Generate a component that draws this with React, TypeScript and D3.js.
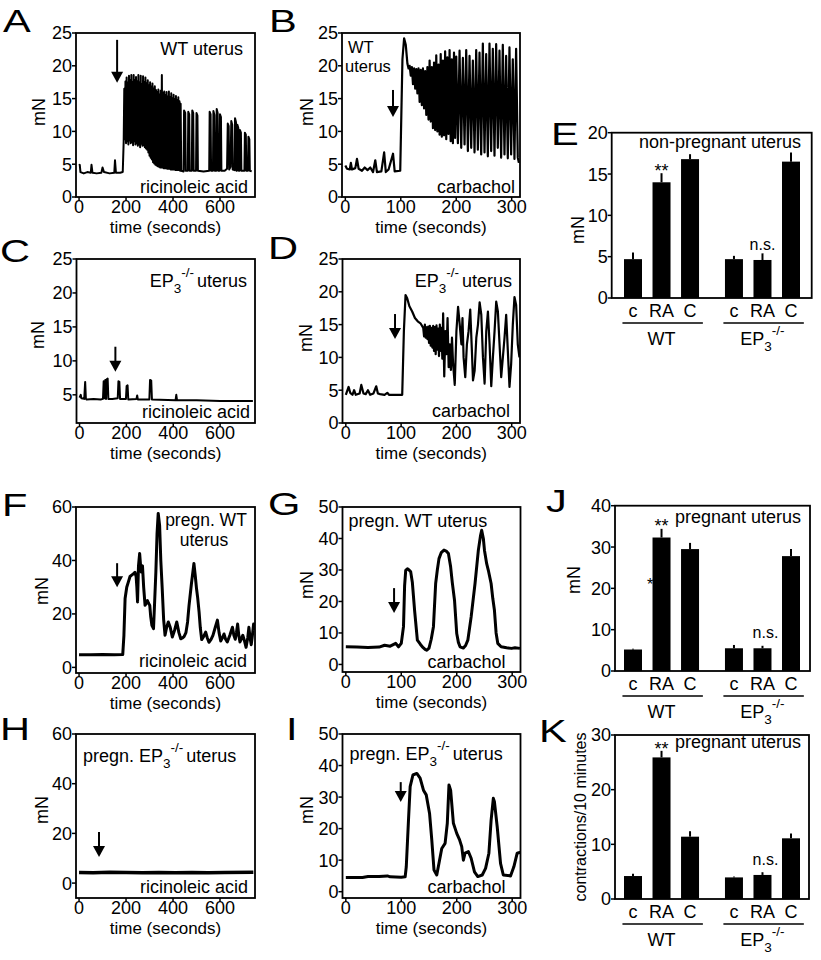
import React, { useEffect } from "react";
import * as d3 from "d3";

type Pt = [number, number];

const FONT = '"Liberation Sans", Arial, Helvetica, sans-serif';

// ---------- tick labels ----------
const ticksLong = [0, 200, 400, 600];
const ticksShort = [0, 100, 200, 300];
const ticks25 = [0, 5, 10, 15, 20, 25];
const ticksC = [5, 10, 15, 20, 25];
const ticks60 = [0, 20, 40, 60];
const ticks50 = [0, 10, 20, 30, 40, 50];
const ticksE = [0, 5, 10, 15, 20];
const ticksJ = [0, 10, 20, 30, 40];
const ticksK = [0, 10, 20, 30];

// ---------- traces [time s, force mN] ----------
const traceA: Pt[] = [
  [0, 4.8], [3, 4.9], [6, 3.8], [20, 3.6], [35, 3.8], [50, 3.7], [53, 4.9], [57, 3.7], [75, 3.6], [95, 3.7], [100, 4.5], [106, 3.8],
  [130, 3.6], [150, 3.7], [153, 5.6], [157, 3.7], [175, 3.7], [186, 3.8],
  [190, 8.5], [192.5, 16.5], [195, 8.8], [197.5, 17.6], [200, 8.2], [202.5, 18.2], [205, 8.5], [207.5, 17.4], [210, 8.0],
  [212.5, 18.5], [215, 8.6], [217.5, 17.8], [220, 8.2], [222.5, 18.6], [225, 8.4], [227.5, 17.5], [230, 7.9], [232.5, 18.6],
  [235, 8.5], [237.5, 17.8], [240, 8.0], [242.5, 18.3], [245, 8.2], [247.5, 17.6], [250, 7.8], [252.5, 18.6], [255, 8.0],
  [257.5, 17.4], [260, 7.6], [262.5, 18.5], [265, 8.1], [267.5, 17.2], [270, 7.8], [272.5, 18.4], [275, 7.9], [277.5, 17.5],
  [280, 7.6], [282.5, 18.2], [285, 7.4], [287.5, 17.3], [290, 7.2], [292.5, 17.8], [295, 6.8], [297.5, 17.0], [300, 6.3],
  [302.5, 17.5], [305, 6.0], [307.5, 16.8], [310, 5.7], [312.5, 17.3], [315, 5.3], [317.5, 16.5], [320, 5.1], [322.5, 16.9],
  [325, 4.9], [327.5, 16.3], [330, 4.8], [332.5, 16.0], [335, 4.7], [337.5, 16.4], [340, 4.6], [342.5, 15.6], [345, 4.5],
  [347.5, 16.2], [350, 4.5], [352.5, 18.6], [355, 4.5], [357.5, 15.8], [360, 4.4], [362.5, 16.1], [365, 4.4], [367.5, 15.5],
  [370, 4.4], [372.5, 16.0], [375, 4.3], [377.5, 15.3], [380, 4.3], [382.5, 16.1], [385, 4.3], [387.5, 15.2], [390, 4.2],
  [392.5, 15.8], [395, 4.2], [397.5, 15.0], [400, 4.2], [402.5, 15.6], [405, 4.2], [407.5, 14.9], [410, 4.1], [412.5, 15.4],
  [415, 4.1], [417.5, 14.8], [420, 4.1], [422.5, 15.2], [425, 4.1], [427.5, 14.6], [430, 4.0], [432.5, 14.2], [435, 4.0],
  [445, 3.9], [447, 13.2], [452, 12.8], [454, 4], [463, 4], [465, 13], [469, 12.6], [471, 4], [480, 4], [482, 13.2], [486, 12.8],
  [488, 4], [498, 4], [500, 12.8], [504, 12.4], [506, 4], [530, 3.9], [554, 4], [556, 13], [560, 12.6], [562, 4], [570, 4],
  [572, 13.1], [576, 12.5], [578, 4], [584, 4], [586, 13.4], [590, 12.8], [592, 4], [598, 4], [600, 12.6], [604, 12.2], [606, 4],
  [620, 4], [630, 4.3], [633, 11.2], [637, 10.8], [639, 4.2], [645, 4.6], [648, 11.6], [652, 11], [654, 4.2], [662, 4.1],
  [664, 12], [668, 11.4], [670, 4], [672, 4], [674, 11], [678, 10.5], [680, 4], [683, 4], [685, 10.2], [689, 9.8], [691, 4],
  [704, 4], [706, 9.8], [710, 9.5], [712, 4], [719, 4], [721, 9.2], [725, 8.8], [727, 4], [735, 3.9],
];

const traceB: Pt[] = [
  [0, 4.8], [3, 4.3], [8, 4.2], [10, 5.2], [12, 4.2], [18, 4.4], [21, 5.8], [24, 4.3], [30, 4.0], [35, 4.5], [40, 4.1], [45, 4.5],
  [50, 3.8], [54, 5.6], [57, 3.8], [65, 3.9], [70, 6.8], [73, 3.8], [78, 4.2], [86, 6.6], [89, 3.9], [99, 4.0],
  [103, 21], [106, 24.2], [109, 23.2], [112, 20.3], [114, 19.6], [116, 20], [118, 18.5], [120, 19.8], [122, 17.2], [124, 19.6],
  [126, 16.5], [128, 19.5], [130, 15.8], [132, 19.6], [134, 14.5], [136, 19.4], [138, 14], [140, 19.6], [142, 13.5], [144, 19.2],
  [146, 12.5], [148, 19.8], [150, 11.8], [152, 20.8], [154, 11.5], [156, 19.8], [158, 10.5], [160, 20.5], [162, 10.2], [164, 21.6],
  [166, 10], [168, 20.2], [170, 9.5], [172, 21.8], [174, 9.2], [176, 20.8], [178, 9.4], [180, 22.2], [182, 8.8], [184, 21.3],
  [186, 9.6], [188, 22.4], [190, 8.5], [192, 21], [194, 8.2], [196, 22], [198, 9], [200, 21.4], [203, 8.2], [206, 22.3],
  [209, 7.5], [212, 21.2], [215, 8], [218, 22.4], [221, 7], [224, 21.5], [227, 7.5], [230, 20.8], [233, 6.8], [236, 22.4],
  [239, 7.2], [242, 22], [245, 6.5], [248, 23.4], [251, 6.8], [254, 21.8], [257, 6.2], [260, 23.4], [263, 7], [266, 22.6],
  [269, 6.3], [272, 23.3], [275, 7.5], [278, 22.3], [281, 6], [284, 23.2], [287, 6.5], [290, 21.5], [293, 5.9], [296, 22.8],
  [299, 6.5], [302, 21], [305, 5.8], [308, 22.6], [311, 6], [313, 5.2],
];

const traceC: Pt[] = [
  [0, 4.6], [5, 5.0], [8, 4.5], [20, 4.4], [24, 6.9], [27, 4.4], [30, 4.3], [60, 4.4], [90, 4.3], [100, 4.4], [103, 7.0],
  [106, 4.5], [110, 7.2], [113, 4.4], [116, 7.3], [120, 7.4], [123, 4.4], [140, 4.4], [163, 4.5], [166, 7.0], [170, 6.9],
  [173, 4.4], [198, 4.4], [201, 6.3], [205, 6.4], [208, 4.3], [243, 4.4], [246, 4.9], [249, 4.3], [298, 4.3], [301, 7.2],
  [306, 7.1], [309, 4.3], [410, 4.2], [413, 5.0], [416, 4.2], [500, 4.2], [600, 4.1], [740, 4.1],
];

const traceD: Pt[] = [
  [0, 4.3], [5, 5.5], [8, 4.6], [12, 4.3], [15, 5], [18, 4.3], [25, 4.5], [28, 5.8], [32, 4.5], [36, 4.4], [40, 5], [44, 4.3],
  [50, 4.5], [55, 5.6], [58, 4.5], [62, 4.4], [70, 4.3], [75, 4.6], [78, 4.3], [85, 4.3], [95, 4.3], [102, 4.3],
  [105, 14], [108, 19.5], [111, 19], [115, 17.8], [120, 17], [125, 16], [130, 15.5], [135, 15.2], [140, 14.5], [141.5, 13.2],
  [143, 15], [144.5, 13], [146, 14.6], [147.5, 12.8], [149, 14.7], [150.5, 12.2], [152, 14.8], [153.5, 11.8], [155, 14.5],
  [156.5, 11.5], [158, 14.8], [159.5, 11], [161, 14.6], [162.5, 10.5], [164, 14.9], [165.5, 11.2], [167, 14.4], [168.5, 10.2],
  [170, 15], [171.5, 11], [173, 14.5], [174.5, 9.8], [176, 16.7], [178, 7.1], [180, 14], [182, 10.5], [184, 16], [186, 8.5],
  [188, 12], [190, 8.1], [192, 13], [194, 9], [197, 5.8], [200, 14], [203, 17.7], [206, 15], [209, 12], [211, 16], [213, 10],
  [216, 7], [219, 12], [222, 14], [225, 17.3], [228, 11], [230, 6.5], [233, 8], [236, 13], [239, 15], [242, 18.4], [245, 16.5],
  [248, 10], [251, 6], [254, 14], [257, 17], [260, 12], [263, 5.6], [266, 10], [269, 14], [272, 18.5], [275, 17], [278, 12],
  [281, 7], [284, 10], [287, 13], [290, 16.5], [293, 11], [296, 5.5], [299, 9], [302, 15], [305, 19.2], [308, 18], [311, 12],
  [314, 10],
];

const traceF: Pt[] = [
  [0, 4.75], [50, 4.7], [100, 4.8], [150, 4.75], [186, 4.8], [191, 12], [196, 25.8], [203, 30], [210, 32], [217, 34], [224, 34.5],
  [231, 35], [238, 35.6], [243, 34], [246, 30], [249, 24.5], [253, 38], [258, 42.6], [262, 38], [265, 35.7], [268, 37.5],
  [270, 38], [275, 30], [281, 23.2], [286, 24], [291, 25], [296, 24], [301, 23.2], [305, 19], [310, 15.75], [317, 14.5],
  [322, 25], [327, 35.7], [332, 50], [337, 57.6], [343, 53], [348, 40], [354, 29.5], [360, 18], [366, 12], [373, 15], [380, 17],
  [388, 15], [397, 11.4], [407, 14], [416, 17], [425, 13], [433, 10.7], [440, 11], [447, 11.5], [455, 13], [462, 17], [468, 23],
  [478, 31], [489, 38.9], [495, 34], [500, 29.5], [505, 26], [511, 20.7], [516, 15], [522, 10.4], [530, 11.5], [539, 13.2],
  [546, 11], [553, 9.4], [562, 10.5], [570, 12], [580, 15], [589, 17.7], [596, 13], [603, 9.9], [610, 11], [617, 12.5],
  [624, 10.5], [631, 9.5], [642, 12], [653, 15], [659, 12], [665, 10.5], [670, 13], [675, 16.2], [680, 12], [685, 9.5],
  [690, 10.5], [697, 12], [704, 10], [711, 7.5], [718, 11], [723, 15], [728, 11], [733, 8.5], [738, 12], [743, 16.2], [746, 14],
];

const traceG: Pt[] = [
  [0, 5.6], [20, 5.5], [40, 5.4], [60, 5.5], [70, 6.1], [80, 5.8], [90, 6.7], [95, 5.6], [100, 6.7], [104, 12], [106, 25],
  [108, 29.9], [111, 30.4], [114, 30], [117, 29.4], [120, 26], [124, 17.2], [129, 7.7], [134, 6.5], [138, 5.6], [143, 4.8],
  [146, 4.5], [150, 5.2], [154, 8], [158, 12], [162, 25.7], [165, 30], [168, 33.6], [172, 35.5], [177, 36.3], [181, 36],
  [185, 35.2], [189, 31], [192, 26], [196, 20.4], [200, 9.8], [203, 7], [206, 5.6], [212, 5.2], [216, 6], [220, 7.7],
  [226, 15.1], [233, 25.7], [239, 36.3], [243, 41], [245, 42.6], [248, 40], [250, 36.3], [254, 32], [257, 29.9], [262, 25.7],
  [265, 21], [268, 17.2], [271, 10], [274, 6.7], [280, 5.6], [290, 5.3], [299, 5.1], [305, 5.3], [314, 5.1],
];

const traceH: Pt[] = [
  [0, 4.3], [60, 4.2], [130, 4.4], [200, 4.3], [270, 4.2], [340, 4.3], [410, 4.2], [480, 4.3], [550, 4.2], [620, 4.3], [742, 4.4],
];

const traceI: Pt[] = [
  [0, 4.5], [30, 4.5], [40, 4.8], [60, 4.8], [75, 5.0], [80, 4.7], [100, 4.6], [107, 4.7], [109, 7.9], [113, 22.7], [116, 33.3],
  [121, 37], [128, 37.5], [134, 36], [140, 32.2], [145, 30.7], [151, 24.8], [155, 16.4], [159, 6.9], [164, 5.3], [169, 10],
  [173, 13.7], [179, 15.3], [183, 21.7], [186, 33.8], [189, 32.2], [194, 21.7], [200, 18.5], [205, 16.5], [209, 14.3],
  [212, 10], [215, 12.2], [221, 12.7], [226, 10.6], [232, 6.3], [238, 4.8], [246, 5.3], [252, 7.4], [258, 12.2], [262, 22.7],
  [266, 29.6], [268, 28.5], [273, 20.6], [279, 9], [284, 5.3], [297, 5], [303, 7.9], [309, 12.2], [315, 12.5],
];

// arrows: [time of addition, force at arrow tip]
const arrowA: Pt = [162, 17.4];
const arrowB: Pt = [86, 12.2];
const arrowC: Pt = [153, 8.4];
const arrowD: Pt = [89, 12.8];
const arrowF: Pt = [162, 30];
const arrowG: Pt = [87, 16.3];
const arrowH: Pt = [85, 10.5];
const arrowI: Pt = [99, 28.4];

// ---------- bar charts ----------
const categories = ["c", "RA", "C", "c", "RA", "C"];
const barGroups = ["WT", "EP3"];
const barsE = [4.7, 14.0, 16.8, 4.7, 4.6, 16.5];
const errE = [5.5, 15.1, 17.4, 5.1, 5.4, 17.6];
const barsJ = [5.2, 32.3, 29.5, 5.5, 5.5, 27.8];
const errJ = [5.4, 34.4, 31.0, 6.3, 6.1, 29.5];
const barsK = [4.2, 25.9, 11.4, 3.95, 4.4, 11.1];
const errK = [4.6, 27.1, 12.4, 4.1, 4.9, 12.0];

// ---------- components ----------
function PanelLetter({ x, y, ch }: { x: number; y: number; ch: string }) {
  return (
    <text transform={`translate(${x},${y}) scale(1.3,1)`} fontSize={32} fill="#000">
      {ch}
    </text>
  );
}

function EP3Text({ x, y, anchor, pre = "", post = "", size = 18 }: any) {
  const s = size * 0.75;
  return (
    <text x={x} y={y} textAnchor={anchor} fontSize={size} fill="#000">
      {pre}EP
      <tspan dy={6} fontSize={s}>3</tspan>
      <tspan dy={-16} fontSize={s}>-/-</tspan>
      {post ? <tspan dy={10} dx={3}>{post}</tspan> : null}
    </text>
  );
}

interface TraceCfg {
  letter: string;
  lx: number;
  ly: number;
  x0: number;
  x1: number;
  y0: number;
  y1: number;
  xDomain: [number, number];
  yDomain: [number, number];
  xTicks: number[];
  yTicks: number[];
  data: Pt[];
  width: number;
  arrow: Pt;
  arrowLen: number;
  mn: [number, number];
  notes: (c: TraceCfg) => React.ReactNode;
}

function TracePanel({ c }: { c: TraceCfg }) {
  const x = d3.scaleLinear().domain(c.xDomain).range([c.x0, c.x1]);
  const y = d3.scaleLinear().domain(c.yDomain).range([c.y1, c.y0]);
  const line = d3
    .line<Pt>()
    .x((d) => x(d[0]))
    .y((d) => y(d[1]));
  const id = "clip" + c.letter;
  const ax = x(c.arrow[0]);
  const ay = y(c.arrow[1]);
  return (
    <g>
      <clipPath id={id}>
        <rect x={c.x0} y={c.y0} width={c.x1 - c.x0} height={c.y1 - c.y0} />
      </clipPath>
      <path
        d={line(c.data) || ""}
        fill="none"
        stroke="#000"
        strokeWidth={c.width}
        strokeLinejoin="round"
        clipPath={`url(#${id})`}
      />
      <rect x={c.x0} y={c.y0} width={c.x1 - c.x0} height={c.y1 - c.y0} fill="none" stroke="#000" strokeWidth={1.8} />
      {c.yTicks.map((t) => (
        <g key={"y" + t}>
          <line x1={c.x0 - 4} x2={c.x0} y1={y(t)} y2={y(t)} stroke="#000" strokeWidth={1.5} />
          <text x={c.x0 - 4} y={y(t)} dy="0.36em" textAnchor="end" fontSize={18} fill="#000">
            {t}
          </text>
        </g>
      ))}
      {c.xTicks.map((t) => (
        <g key={"x" + t}>
          <line x1={x(t)} x2={x(t)} y1={c.y1} y2={c.y1 + 4} stroke="#000" strokeWidth={1.5} />
          <text x={x(t)} y={c.y1 + 16} textAnchor="middle" fontSize={18} fill="#000">
            {t}
          </text>
        </g>
      ))}
      <text x={(c.x0 + c.x1) / 2} y={c.y1 + 35.5} textAnchor="middle" fontSize={17} fill="#000">
        time (seconds)
      </text>
      <text
        transform={`translate(${c.mn[0]},${c.mn[1]}) rotate(-90)`}
        dy="0.35em"
        textAnchor="middle"
        fontSize={18}
        fill="#000"
      >
        mN
      </text>
      <line x1={ax} x2={ax} y1={ay - c.arrowLen} y2={ay - 9} stroke="#000" strokeWidth={2} />
      <path d={`M${ax - 6},${ay - 11}L${ax + 6},${ay - 11}L${ax},${ay}Z`} fill="#000" />
      {c.notes(c)}
      <PanelLetter x={c.lx} y={c.ly} ch={c.letter} />
    </g>
  );
}

const longX: [number, number] = [-13, 749];
const shortX: [number, number] = [-6, 315];

const tracePanels: TraceCfg[] = [
  {
    letter: "A", lx: 3, ly: 32, x0: 76, x1: 255, y0: 33, y1: 197, xDomain: longX, yDomain: [0, 25],
    xTicks: ticksLong, yTicks: ticks25, data: traceA, width: 2, arrow: arrowA, arrowLen: 43, mn: [39, 112],
    notes: (c) => (
      <g fontSize={18} fill="#000">
        <text x={c.x1 - 12} y={c.y0 + 22} textAnchor="end">WT uterus</text>
        <text x={c.x1 - 7} y={c.y1 - 4} textAnchor="end">ricinoleic acid</text>
      </g>
    ),
  },
  {
    letter: "B", lx: 269, ly: 32, x0: 342, x1: 520, y0: 33, y1: 197, xDomain: shortX, yDomain: [0, 25],
    xTicks: ticksShort, yTicks: ticks25, data: traceB, width: 2.2, arrow: arrowB, arrowLen: 27, mn: [307, 112],
    notes: (c) => (
      <g fontSize={16.5} fill="#000">
        <text x={c.x0 + 6} y={c.y0 + 20}>WT</text>
        <text x={c.x0 + 3} y={c.y0 + 38.5}>uterus</text>
        <text x={c.x1 - 5} y={c.y1 - 4} textAnchor="end" fontSize={18}>carbachol</text>
      </g>
    ),
  },
  {
    letter: "C", lx: 0, ly: 262, x0: 76.5, x1: 255, y0: 259, y1: 423, xDomain: longX, yDomain: [0.85, 25],
    xTicks: ticksLong, yTicks: ticksC, data: traceC, width: 2, arrow: arrowC, arrowLen: 25, mn: [38, 335],
    notes: (c) => (
      <g>
        <EP3Text x={c.x1 - 8} y={c.y0 + 28} anchor="end" post="uterus" />
        <text x={c.x1 - 5} y={c.y1 - 5} textAnchor="end" fontSize={18} fill="#000">ricinoleic acid</text>
      </g>
    ),
  },
  {
    letter: "D", lx: 268, ly: 259, x0: 342.5, x1: 520, y0: 259, y1: 423, xDomain: shortX, yDomain: [0, 25],
    xTicks: ticksShort, yTicks: ticks25, data: traceD, width: 2.2, arrow: arrowD, arrowLen: 25, mn: [306, 338],
    notes: (c) => (
      <g>
        <EP3Text x={c.x1 - 8} y={c.y0 + 28} anchor="end" post="uterus" />
        <text x={c.x1 - 10} y={c.y1 - 6} textAnchor="end" fontSize={18} fill="#000">carbachol</text>
      </g>
    ),
  },
  {
    letter: "F", lx: 2, ly: 516, x0: 76, x1: 255, y0: 507, y1: 673, xDomain: longX, yDomain: [-2.1, 60],
    xTicks: ticksLong, yTicks: ticks60, data: traceF, width: 3, arrow: arrowF, arrowLen: 24, mn: [42, 591],
    notes: (c) => (
      <g fontSize={17.5} fill="#000">
        <text x={206} y={c.y0 + 19} textAnchor="middle">pregn. WT</text>
        <text x={204} y={c.y0 + 39} textAnchor="middle">uterus</text>
        <text x={c.x1 - 8} y={c.y1 - 6} textAnchor="end" fontSize={18}>ricinoleic acid</text>
      </g>
    ),
  },
  {
    letter: "G", lx: 268, ly: 515, x0: 342.5, x1: 520.5, y0: 507, y1: 672, xDomain: shortX, yDomain: [-2.4, 50],
    xTicks: ticksShort, yTicks: ticks50, data: traceG, width: 3, arrow: arrowG, arrowLen: 25, mn: [307, 585],
    notes: (c) => (
      <g fontSize={18} fill="#000">
        <text x={c.x0 + 6} y={c.y0 + 20}>pregn. WT uterus</text>
        <text x={c.x1 - 15} y={c.y1 - 4} textAnchor="end">carbachol</text>
      </g>
    ),
  },
  {
    letter: "H", lx: 0, ly: 740, x0: 76, x1: 255, y0: 734, y1: 898, xDomain: longX, yDomain: [-6, 60],
    xTicks: ticksLong, yTicks: ticks60, data: traceH, width: 3.5, arrow: arrowH, arrowLen: 25, mn: [42, 810],
    notes: (c) => (
      <g>
        <EP3Text x={c.x0 + 7} y={c.y0 + 28} anchor="start" pre="pregn. " post="uterus" />
        <text x={c.x1 - 7} y={c.y1 - 5} textAnchor="end" fontSize={18} fill="#000">ricinoleic acid</text>
      </g>
    ),
  },
  {
    letter: "I", lx: 286, ly: 740, x0: 342.5, x1: 520.5, y0: 734, y1: 898, xDomain: shortX, yDomain: [-2, 50],
    xTicks: ticksShort, yTicks: ticks50, data: traceI, width: 3, arrow: arrowI, arrowLen: 20, mn: [307, 810],
    notes: (c) => (
      <g>
        <EP3Text x={c.x0 + 7} y={c.y0 + 26} anchor="start" pre="pregn. " post="uterus" />
        <text x={c.x1 - 15} y={c.y1 - 5} textAnchor="end" fontSize={18} fill="#000">carbachol</text>
      </g>
    ),
  },
];

interface BarCfg {
  letter: string;
  lx: number;
  ly: number;
  x0: number;
  x1: number;
  y0: number;
  y1: number;
  yDomain: [number, number];
  yTicks: number[];
  values: number[];
  errors: number[];
  ylabel: string;
  ylabelPos: [number, number];
  ylabelSize: number;
  notes: (c: BarCfg, xs: (i: number) => number) => React.ReactNode;
}

const slot = (i: number) => Math.floor(i / 3) * 3.54 + (i % 3);

function BarPanel({ c }: { c: BarCfg }) {
  const xsc = d3.scaleLinear().domain([0, 5.54]).range([633, 791]);
  const xs = (i: number) => xsc(slot(i));
  const y = d3.scaleLinear().domain(c.yDomain).range([c.y1, c.y0]);
  const bw = 18;
  return (
    <g>
      {c.values.map((v, i) => (
        <g key={i}>
          <rect x={xs(i) - bw / 2} y={y(v)} width={bw} height={c.y1 - y(v)} fill="#000" />
          <line x1={xs(i)} x2={xs(i)} y1={y(v)} y2={y(c.errors[i])} stroke="#000" strokeWidth={2} />
          <text x={xs(i)} y={c.y1 + 19} textAnchor="middle" fontSize={18} fill="#000">
            {categories[i]}
          </text>
        </g>
      ))}
      <rect x={c.x0} y={c.y0} width={c.x1 - c.x0} height={c.y1 - c.y0} fill="none" stroke="#000" strokeWidth={1.8} />
      {c.yTicks.map((t) => (
        <g key={"y" + t}>
          <line x1={c.x0 - 4} x2={c.x0} y1={y(t)} y2={y(t)} stroke="#000" strokeWidth={1.5} />
          <text x={c.x0 - 4} y={y(t)} dy="0.36em" textAnchor="end" fontSize={18} fill="#000">
            {t}
          </text>
        </g>
      ))}
      {barGroups.map((g, gi) => {
        const a = xsc(gi * 3.54 - 0.37);
        const b = xsc(gi * 3.54 + 2.45);
        const mid = xsc(gi * 3.54 + 1);
        return (
          <g key={g}>
            <line x1={a} x2={b} y1={c.y1 + 25} y2={c.y1 + 25} stroke="#000" strokeWidth={1.5} />
            {g === "WT" ? (
              <text x={mid} y={c.y1 + 47} textAnchor="middle" fontSize={18} fill="#000">
                WT
              </text>
            ) : (
              <EP3Text x={mid} y={c.y1 + 47} anchor="middle" />
            )}
          </g>
        );
      })}
      <text
        transform={`translate(${c.ylabelPos[0]},${c.ylabelPos[1]}) rotate(-90)`}
        dy="0.35em"
        textAnchor="middle"
        fontSize={c.ylabelSize}
        fill="#000"
      >
        {c.ylabel}
      </text>
      {c.notes(c, xs)}
      <PanelLetter x={c.lx} y={c.ly} ch={c.letter} />
    </g>
  );
}

const barPanels: BarCfg[] = [
  {
    letter: "E", lx: 551, ly: 145, x0: 611.7, x1: 811.7, y0: 132.7, y1: 298, yDomain: [0, 20], yTicks: ticksE,
    values: barsE, errors: errE, ylabel: "mN", ylabelPos: [578, 230], ylabelSize: 18,
    notes: (c, xs) => (
      <g fill="#000">
        <text x={720} y={148} textAnchor="middle" fontSize={18}>non-pregnant uterus</text>
        <text x={xs(1)} y={177} textAnchor="middle" fontSize={18}>**</text>
        <text x={xs(4)} y={250} textAnchor="middle" fontSize={16}>n.s.</text>
      </g>
    ),
  },
  {
    letter: "J", lx: 546, ly: 512, x0: 615, x1: 810, y0: 505.7, y1: 671, yDomain: [0, 40], yTicks: ticksJ,
    values: barsJ, errors: errJ, ylabel: "mN", ylabelPos: [574, 580], ylabelSize: 18,
    notes: (c, xs) => (
      <g fill="#000">
        <text x={xs(1)} y={532} textAnchor="middle" fontSize={18}>**</text>
        <text x={675} y={523} fontSize={18}>pregnant uterus</text>
        <text x={650} y={590} textAnchor="middle" fontSize={16}>*</text>
        <text x={xs(4) + 3} y={638} textAnchor="middle" fontSize={16}>n.s.</text>
      </g>
    ),
  },
  {
    letter: "K", lx: 539, ly: 742, x0: 615, x1: 809, y0: 735, y1: 899, yDomain: [0, 30], yTicks: ticksK,
    values: barsK, errors: errK, ylabel: "contractions/10 minutes", ylabelPos: [580, 817], ylabelSize: 16,
    notes: (c, xs) => (
      <g fill="#000">
        <text x={xs(1)} y={755} textAnchor="middle" fontSize={18}>**</text>
        <text x={675} y={748} fontSize={18}>pregnant uterus</text>
        <text x={xs(4) + 3} y={865} textAnchor="middle" fontSize={16}>n.s.</text>
      </g>
    ),
  },
];

export default function App() {
  useEffect(() => {
    document.body.style.margin = "0";
  }, []);
  return (
    <svg
      width={821}
      height={960}
      viewBox="0 0 821 960"
      style={{ position: "absolute", left: 0, top: 0, display: "block" }}
      fontFamily={FONT}
    >
      <rect x={0} y={0} width={821} height={960} fill="#fff" />
      {tracePanels.map((c) => (
        <TracePanel key={c.letter} c={c} />
      ))}
      {barPanels.map((c) => (
        <BarPanel key={c.letter} c={c} />
      ))}
    </svg>
  );
}
